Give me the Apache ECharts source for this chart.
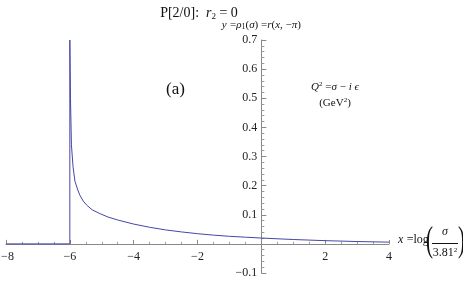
<!DOCTYPE html>
<html>
<head>
<meta charset="utf-8">
<script src="https://cdn.jsdelivr.net/npm/echarts@6/dist/echarts.min.js"></script>
<style>html,body{margin:0;padding:0;background:#fff}#c{width:463px;height:282px}</style>
</head>
<body>
<div id="c"></div>
<script>
// data
const xValues = [-8, -6.0, -6.0, -5.98, -5.95, -5.9, -5.84, -5.75, -5.69, -5.58, -5.48, -5.3, -5.06, -4.8, -4.5, -4.0, -3.5, -3.0, -2.5, -2.0, -1.5, -1.0, -0.5, 0, 1, 2, 3, 4];
const yValues = [0, 0, 0.7, 0.5, 0.34, 0.265, 0.215, 0.185, 0.168, 0.147, 0.134, 0.117, 0.104, 0.092, 0.082, 0.068, 0.057, 0.048, 0.041, 0.035, 0.03, 0.026, 0.023, 0.02, 0.015, 0.011, 0.008, 0.006];
const xTicks = [-8, -6, -4, -2, 2, 4];
const yTicks = [-0.1, 0.1, 0.2, 0.3, 0.4, 0.5, 0.6, 0.7];

const serif = '"Liberation Serif", "DejaVu Serif", serif';
const fmt = v => String(v).replace('-', '\u2212');

// layout
const gridLeft = 6, gridRight = 74, gridTop = 40, gridBottom = 9;
const W = 463, H = 282;
const plotW = W - gridLeft - gridRight, plotH = H - gridTop - gridBottom;
const xMin = -8, xMax = 4, yMin = -0.1, yMax = 0.7;
const yAxisOffset = -plotW * (0 - xMin) / (xMax - xMin);   // move y axis to x = 0
const xAxisOffset = -plotH * (0 - yMin) / (yMax - yMin);   // move x axis to y = 0

const chart = echarts.init(document.getElementById('c'), null, {renderer: 'canvas'});
chart.setOption({
  animation: false,
  backgroundColor: '#fff',
  title: {
    text: '{n|P[2/0]:  }{i|r}{s|2}{n| = 0}',
    left: 194, top: 1, textAlign: 'center',
    textStyle: {
      fontWeight: 'normal',
      rich: {
        n: {fontFamily: serif, fontSize: 14, fontWeight: 'normal', color: '#111'},
        i: {fontFamily: serif, fontSize: 14, fontWeight: 'normal', fontStyle: 'italic', color: '#111'},
        s: {fontFamily: serif, fontSize: 9, fontWeight: 'normal', color: '#111', padding: [6, 0, 0, 0]}
      }
    }
  },
  grid: {left: gridLeft, right: gridRight, top: gridTop, bottom: gridBottom, containLabel: false, outerBoundsMode: 'none'},
  xAxis: {
    type: 'value', min: xMin, max: xMax, interval: 2,
    position: 'bottom', offset: xAxisOffset,
    axisLine: {onZero: false, lineStyle: {color: '#888', width: 1}},
    axisTick: {inside: true, length: 4, lineStyle: {color: '#888'}},
    minorTick: {show: true, splitNumber: 4, length: 2, lineStyle: {color: '#999'}},
    splitLine: {show: false},
    axisLabel: {
      margin: 7, color: '#222', fontFamily: serif, fontSize: 12,
      showMinLabel: true, showMaxLabel: true,
      formatter: v => {
        if (!xTicks.some(t => Math.abs(t - v) < 1e-9)) return '';
        return v === xMin ? '{m|' + fmt(v) + '}' : fmt(v);
      },
      rich: {m: {fontFamily: serif, fontSize: 12, color: '#222', padding: [0, 0, 0, 3]}}
    }
  },
  yAxis: {
    type: 'value', min: yMin, max: yMax, interval: 0.1,
    position: 'left', offset: yAxisOffset,
    name: '{i|y} {n|=}{i|ρ}{s|1}{n|(}{i|σ}{n|) =}{i|r}{n|(}{i|x}{n|, \u2212}{i|π}{n|)}',
    nameLocation: 'end', nameGap: 9,
    nameTextStyle: {
      align: 'center',
      rich: {
        n: {fontFamily: serif, fontSize: 11, color: '#111'},
        i: {fontFamily: serif, fontSize: 11, fontStyle: 'italic', color: '#111'},
        s: {fontFamily: serif, fontSize: 8, color: '#111', padding: [4, 0, 0, 0]}
      }
    },
    axisLine: {onZero: false, lineStyle: {color: '#888', width: 1}},
    axisTick: {inside: true, length: 5, lineStyle: {color: '#888'}},
    minorTick: {show: true, splitNumber: 5, length: 3, lineStyle: {color: '#999'}},
    splitLine: {show: false},
    axisLabel: {
      margin: 4, color: '#222', fontFamily: serif, fontSize: 12,
      formatter: v => yTicks.some(t => Math.abs(t - v) < 1e-9) ? fmt(+v.toFixed(1)) : ''
    }
  },
  series: [{
    type: 'line',
    data: xValues.map((x, i) => [x, yValues[i]]),
    showSymbol: false,
    smooth: false,
    clip: true,
    lineStyle: {color: '#4646a6', width: 1}
  }],
  graphic: [
    {type: 'text', left: 166, top: 81, style: {text: '(a)', font: '17px ' + serif, fill: '#111'}},
    {type: 'text', x: 335, y: 87, style: {
      text: '{i|Q}{s|2}{n| =}{i|σ}{n| \u2212 }{i|i ϵ}', align: 'center', verticalAlign: 'middle',
      rich: {
        n: {font: '11px ' + serif, fill: '#111'},
        i: {font: 'italic 11px ' + serif, fill: '#111'},
        s: {font: '7px ' + serif, fill: '#111', padding: [0, 0, 6, 0]}
      }
    }},
    {type: 'text', x: 335, y: 103, style: {
      text: '{n|(GeV}{s|2}{n|)}', align: 'center', verticalAlign: 'middle',
      rich: {
        n: {font: '11px ' + serif, fill: '#111'},
        s: {font: '7px ' + serif, fill: '#111', padding: [0, 0, 6, 0]}
      }
    }},
    {type: 'text', x: 398, y: 240, style: {
      text: '{i|x} {n|=log}', verticalAlign: 'middle',
      rich: {
        n: {font: '12px ' + serif, fill: '#111'},
        i: {font: 'italic 12px ' + serif, fill: '#111'}
      }
    }},
    {type: 'text', x: 426, y: 241, scaleY: 1.75, style: {text: '(', font: '21px ' + serif, fill: '#111', verticalAlign: 'middle'}},
    {type: 'text', x: 458, y: 241, scaleY: 1.75, style: {text: ')', font: '21px ' + serif, fill: '#111', verticalAlign: 'middle'}},
    {type: 'text', x: 445, y: 232, style: {text: 'σ', font: 'italic 12px ' + serif, fill: '#111', align: 'center', verticalAlign: 'middle'}},
    {type: 'line', shape: {x1: 432, y1: 243.5, x2: 458, y2: 243.5}, style: {stroke: '#111', lineWidth: 1}},
    {type: 'text', x: 445, y: 253, style: {
      text: '{n|3.81}{s|2}', align: 'center', verticalAlign: 'middle',
      rich: {
        n: {font: '12px ' + serif, fill: '#111'},
        s: {font: '7px ' + serif, fill: '#111', padding: [0, 0, 6, 0]}
      }
    }}
  ]
});
</script>
</body>
</html>
